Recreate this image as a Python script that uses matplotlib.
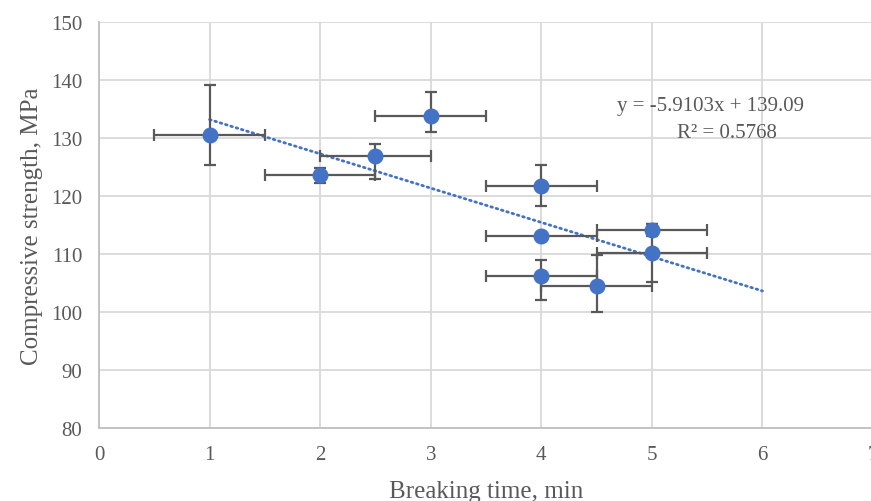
import numpy as np
import matplotlib
matplotlib.use("Agg")
from matplotlib import pyplot as plt

# breaking time (min) and compressive strength (MPa) with error bars
breaking_time = [1, 2, 2.5, 3, 4, 4, 5, 5, 4, 4.5]
strength = [130.5, 123.6, 126.9, 133.8, 121.7, 113.1, 114.1, 110.2, 106.2, 104.5]
time_err = [0.5, 0.5, 0.5, 0.5, 0.5, 0.5, 0.5, 0.5, 0.5, 0.5]
strength_err_low = [5.1, 1.4, 4.0, 2.8, 3.4, 0.0, 1.0, 5.1, 4.1, 4.5]
strength_err_high = [8.7, 1.2, 2.1, 4.1, 3.6, 0.0, 1.0, 4.9, 2.8, 5.3]

# Excel linear trendline
slope = -5.9103
intercept = 139.09
r2 = 0.5768
trend_x = [1, 6]

x_ticks = [0, 1, 2, 3, 4, 5, 6, 7]
y_ticks = [80, 90, 100, 110, 120, 130, 140, 150]

plt.rcParams['font.family'] = ['Liberation Serif', 'DejaVu Serif']

W, H = 871, 502
fig = plt.figure(figsize=(W / 100, H / 100), dpi=100)
ax = fig.add_axes([99 / W, 1 - 429 / H, 774 / W, 406 / H])

blue = '#4472C4'
dark = '#595959'

tx = np.array(trend_x)
ax.plot(tx, slope * tx + intercept, linestyle=(0, (0.6, 1.4)), color=blue,
        linewidth=2.0, dash_capstyle='round', zorder=2)

ax.errorbar(breaking_time, strength, xerr=time_err,
            yerr=[strength_err_low, strength_err_high],
            fmt='o', color=blue, markersize=10.5, ecolor=dark,
            elinewidth=1.6, capsize=4.5, capthick=1.6, zorder=3)

fig.text(710 / W, 1 - 106 / H, 'y = %.4fx + %.2f' % (slope, intercept),
         fontsize=15, color=dark, ha='center', va='center')
fig.text(727 / W, 1 - 134 / H, 'R² = %.4f' % r2,
         fontsize=15, color=dark, ha='center', va='center')

ax.set_xlim(0, 7)
ax.set_ylim(80, 150)
ax.set_xticks(x_ticks)
ax.set_yticks(y_ticks)
ax.grid(True, color='#d9d9d9', linewidth=1.3)
ax.set_axisbelow(True)
for side in ['top', 'right']:
    ax.spines[side].set_visible(False)
for side in ['left', 'bottom']:
    ax.spines[side].set_color('#bfbfbf')
    ax.spines[side].set_linewidth(1.3)
ax.tick_params(length=0, labelsize=15, labelcolor=dark, pad=12)

ax.set_xlabel('Breaking time, min', fontsize=18, color=dark, labelpad=12)
ax.set_ylabel('Compressive strength, MPa', fontsize=18, color=dark, labelpad=6)

plt.savefig('out.png', dpi=100)
plt.close()
